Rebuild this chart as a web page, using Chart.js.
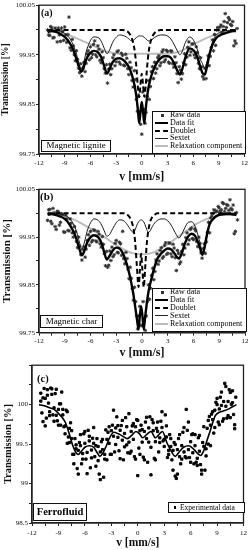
<!DOCTYPE html>
<html>
<head>
<meta charset="utf-8">
<script src="https://cdn.jsdelivr.net/npm/chart.js@4.4.1/dist/chart.umd.min.js"></script>
<style>
body { margin: 0; background: #fff; }
#page { position: relative; width: 250px; height: 550px; overflow: hidden; font-family: 'Liberation Serif', serif; color: #111; -webkit-font-smoothing: antialiased; }
canvas { position: absolute; left: 0; }
.box { position: absolute; box-sizing: border-box; border: 1px solid #111; background: #fff; color: #000; will-change: transform; transform: translateZ(0); }
.lbl { position: absolute; box-sizing: border-box; border: 1.3px solid #111; background: #fff; text-align: center; white-space: nowrap; color: #000; will-change: transform; transform: translateZ(0); }
.tag { position: absolute; font-weight: bold; will-change: transform; transform: translateZ(0); }
.row { position: absolute; left: 2px; height: 8px; line-height: 8px; font-size: 8px; white-space: nowrap; }
.sym { position: absolute; left: 0; width: 13px; }
.txt { position: absolute; left: 15px; top: 0; }
.dot { position: absolute; left: 5.5px; top: 2.5px; width: 3px; height: 3px; background: #333; }
</style>
</head>
<body>
<div id="page">
  <canvas id="chartA" width="250" height="184" style="top:0"></canvas>
  <canvas id="chartB" width="250" height="176" style="top:184px"></canvas>
  <canvas id="chartC" width="250" height="190" style="top:360px"></canvas>

  <div class="tag" style="left:41px;top:7px;font-size:10px">(a)</div>
  <div class="lbl" style="left:40.7px;top:140px;width:70.3px;height:11.7px;font-size:9px;line-height:9.5px">Magnetic lignite</div>
  <div class="box" style="left:152px;top:111px;width:93.5px;height:43px">
    <div class="row" style="top:-1px"><span class="dot"></span><span class="txt">Raw data</span></div>
    <div class="row" style="top:6.8px"><span class="sym" style="top:3px;border-top:2px solid #000"></span><span class="txt">Data fit</span></div>
    <div class="row" style="top:14.6px"><span class="sym" style="top:3px;border-top:2px dashed #000"></span><span class="txt">Doublet</span></div>
    <div class="row" style="top:22.4px"><span class="sym" style="top:3.5px;border-top:1px solid #222"></span><span class="txt">Sextet</span></div>
    <div class="row" style="top:30.2px"><span class="sym" style="top:3px;border-top:2px solid #bbb"></span><span class="txt">Relaxation component</span></div>
  </div>

  <div class="tag" style="left:39.5px;top:190px;font-size:11px">(b)</div>
  <div class="lbl" style="left:40px;top:315px;width:63px;height:13.3px;font-size:9px;line-height:10.5px">Magnetic char</div>
  <div class="box" style="left:152px;top:288.3px;width:94.5px;height:44.4px">
    <div class="row" style="top:-1px"><span class="dot"></span><span class="txt">Raw data</span></div>
    <div class="row" style="top:6.7px"><span class="sym" style="top:3px;border-top:2px solid #000"></span><span class="txt">Data fit</span></div>
    <div class="row" style="top:14.7px"><span class="sym" style="top:3px;border-top:2px dashed #000"></span><span class="txt">Doublet</span></div>
    <div class="row" style="top:22.7px"><span class="sym" style="top:3.5px;border-top:1px solid #222"></span><span class="txt">Sextet</span></div>
    <div class="row" style="top:30.7px"><span class="sym" style="top:3px;border-top:2px solid #bbb"></span><span class="txt">Relaxation component</span></div>
  </div>

  <div class="tag" style="left:37px;top:373px;font-size:10.5px">(c)</div>
  <div class="lbl" style="left:33.3px;top:502.5px;width:54px;height:18px;font-size:10.5px;line-height:15.5px;font-weight:bold">Ferrofluid</div>
  <div class="box" style="left:167.7px;top:501.7px;width:77.3px;height:11px">
    <div class="row" style="top:0.5px;left:2px;font-size:7.5px"><span class="dot" style="left:2.5px;top:2.5px;width:2.5px;height:2.5px;background:#000"></span><span class="txt" style="left:9px">Experimental data</span></div>
  </div>
</div>

<script>
// raw channels, two interleaved sets
var rawV = [
  -11, -10.75, -10.5, -10.25, -10, -9.75, -9.5, -9.25, -9, -8.75,
  -8.5, -8.25, -8, -7.75, -7.5, -7.25, -7, -6.75, -6.5, -6.25,
  -6, -5.75, -5.5, -5.25, -5, -4.75, -4.5, -4.25, -4, -3.75,
  -3.5, -3.25, -3, -2.75, -2.5, -2.25, -2, -1.75, -1.5, -1.25,
  -1, -0.75, -0.5, -0.25, 0, 0.25, 0.5, 0.75, 1, 1.25,
  1.5, 1.75, 2, 2.25, 2.5, 2.75, 3, 3.25, 3.5, 3.75,
  4, 4.25, 4.5, 4.75, 5, 5.25, 5.5, 5.75, 6, 6.25,
  6.5, 6.75, 7, 7.25, 7.5, 7.75, 8, 8.25, 8.5, 8.75,
  9, 9.25, 9.5, 9.75, 10, 10.25, 10.5, 10.75, 11
];
var rawV2 = [
  -10.875, -10.625, -10.375, -10.125, -9.875, -9.625, -9.375, -9.125, -8.875, -8.625,
  -8.375, -8.125, -7.875, -7.625, -7.375, -7.125, -6.875, -6.625, -6.375, -6.125,
  -5.875, -5.625, -5.375, -5.125, -4.875, -4.625, -4.375, -4.125, -3.875, -3.625,
  -3.375, -3.125, -2.875, -2.625, -2.375, -2.125, -1.875, -1.625, -1.375, -1.125,
  -0.875, -0.625, -0.375, -0.125, 0.125, 0.375, 0.625, 0.875, 1.125, 1.375,
  1.625, 1.875, 2.125, 2.375, 2.625, 2.875, 3.125, 3.375, 3.625, 3.875,
  4.125, 4.375, 4.625, 4.875, 5.125, 5.375, 5.625, 5.875, 6.125, 6.375,
  6.625, 6.875, 7.125, 7.375, 7.625, 7.875, 8.125, 8.375, 8.625, 8.875,
  9.125, 9.375, 9.625, 9.875, 10.125, 10.375, 10.625, 10.875, 11.125
];

// (a) magnetic lignite
var rawA1 = [
  100.000, 99.989, 100.004, 99.985, 99.999, 100.004, 99.977, 99.997, 100.006, 99.975,
  100.026, 99.959, 99.968, 99.938, 99.941, 99.914, 99.907, 99.935, 99.933, 99.958,
  99.966, 99.951, 99.978, 99.946, 99.961, 99.934, 99.944, 99.913, 99.893, 99.931,
  99.922, 99.950, 99.936, 99.958, 99.931, 99.949, 99.928, 99.943, 99.910, 99.924,
  99.885, 99.900, 99.836, 99.835, 99.790, 99.840, 99.834, 99.898, 99.886, 99.926,
  99.935, 99.922, 99.948, 99.934, 99.960, 99.940, 99.957, 99.933, 99.957, 99.925,
  99.934, 99.894, 99.919, 99.912, 99.952, 99.945, 99.976, 99.956, 99.972, 99.944,
  99.955, 99.922, 99.926, 99.901, 99.902, 99.948, 99.947, 99.980, 99.991, 100.000,
  100.000, 100.010, 100.007, 100.033, 100.015, 100.021, 100.009, 99.968, 99.973
];
var rawA2 = [
  99.990, 100.007, 99.984, 100.004, 99.976, 99.990, 100.004, 99.979, 99.990, 99.991,
  99.964, 99.981, 99.950, 99.958, 99.923, 99.932, 99.923, 99.916, 99.952, 99.940,
  99.944, 99.971, 99.950, 99.968, 99.939, 99.956, 99.922, 99.930, 99.921, 99.910,
  99.944, 99.928, 99.956, 99.935, 99.953, 99.929, 99.951, 99.922, 99.935, 99.898,
  99.918, 99.860, 99.866, 99.810, 99.875, 99.812, 99.866, 99.860, 99.916, 99.902,
  99.913, 99.944, 99.928, 99.956, 99.936, 99.959, 99.935, 99.958, 99.932, 99.946,
  99.912, 99.926, 99.901, 99.934, 99.930, 99.965, 99.949, 99.972, 99.950, 99.966,
  99.933, 99.944, 99.906, 99.923, 99.928, 99.928, 99.965, 99.958, 99.969, 100.005,
  100.006, 99.995, 100.017, 100.005, 100.025, 100.011, 100.017, 99.978, 100.003
];
var fitVa = [
  -11, -10.5, -10, -9.5, -9, -8.5, -8, -7.6, -7.3, -7.05, -6.8,
  -6.5, -6.1, -5.6, -5.1, -4.7, -4.35, -4.05, -3.75, -3.4, -3.0, -2.6,
  -2.2, -1.8, -1.5, -1.2, -1.0, -0.8, -0.6, -0.45, -0.3, -0.15, 0,
  0.15, 0.3, 0.45, 0.6, 0.8, 1.0, 1.2, 1.5, 1.8, 2.2, 2.6,
  3.0, 3.4, 3.8, 4.15, 4.45, 4.75, 5.1, 5.6, 6.1, 6.5, 6.85,
  7.1, 7.35, 7.6, 7.9, 8.3, 8.7, 9.2, 9.7, 10.2, 10.7, 11
];
var fitA = [
  99.996, 99.998, 99.996, 99.992, 99.986, 99.976, 99.960, 99.940, 99.924, 99.916, 99.924,
  99.940, 99.952, 99.958, 99.955, 99.944, 99.925, 99.912, 99.922, 99.935, 99.942, 99.943,
  99.940, 99.933, 99.925, 99.912, 99.900, 99.885, 99.862, 99.838, 99.812, 99.835, 99.855,
  99.835, 99.812, 99.838, 99.862, 99.885, 99.900, 99.912, 99.925, 99.935, 99.943, 99.947,
  99.947, 99.944, 99.932, 99.918, 99.910, 99.922, 99.945, 99.963, 99.958, 99.945, 99.925,
  99.913, 99.910, 99.925, 99.950, 99.972, 99.984, 99.990, 99.993, 99.996, 99.998, 99.998
];
var doubletA = [
  100, 100, 100, 100, 100, 100, 100, 100, 100, 100, 100,
  100, 100, 100, 100, 100, 100, 100, 100, 100, 100, 100,
  100, 99.998, 99.994, 99.985, 99.974, 99.955, 99.920, 99.885, 99.865, 99.890, 99.912,
  99.890, 99.865, 99.885, 99.920, 99.955, 99.974, 99.985, 99.994, 99.998, 100, 100,
  100, 100, 100, 100, 100, 100, 100, 100, 100, 100, 100,
  100, 100, 100, 100, 100, 100, 100, 100, 100, 100, 100
];
var sextetA = [
  100, 100, 99.999, 99.997, 99.993, 99.985, 99.970, 99.950, 99.930, 99.922, 99.932,
  99.955, 99.975, 99.986, 99.985, 99.976, 99.962, 99.952, 99.960, 99.975, 99.985, 99.990,
  99.989, 99.986, 99.982, 99.978, 99.979, 99.982, 99.985, 99.987, 99.988, 99.988, 99.988,
  99.987, 99.985, 99.983, 99.980, 99.978, 99.978, 99.981, 99.985, 99.988, 99.990, 99.990,
  99.988, 99.982, 99.970, 99.958, 99.950, 99.958, 99.975, 99.986, 99.978, 99.960, 99.940,
  99.932, 99.922, 99.935, 99.955, 99.978, 99.990, 99.996, 99.998, 99.999, 100, 100
];
var relaxA = [
  99.998, 99.997, 99.996, 99.994, 99.992, 99.989, 99.986, 99.983, 99.981, 99.979, 99.977,
  99.975, 99.972, 99.968, 99.964, 99.961, 99.958, 99.956, 99.955, 99.954, 99.953, 99.952,
  99.952, 99.952, 99.952, 99.952, 99.952, 99.952, 99.952, 99.952, 99.952, 99.952, 99.952,
  99.952, 99.952, 99.952, 99.952, 99.952, 99.952, 99.952, 99.952, 99.952, 99.952, 99.952,
  99.952, 99.953, 99.954, 99.955, 99.957, 99.959, 99.962, 99.967, 99.972, 99.975, 99.978,
  99.980, 99.982, 99.984, 99.986, 99.989, 99.991, 99.993, 99.995, 99.997, 99.998, 99.999
];

// (b) magnetic char
var rawB1 = [
  99.985, 100.008, 99.978, 100.001, 99.966, 100.003, 99.981, 99.997, 99.960, 99.988,
  99.963, 99.979, 99.950, 99.961, 99.928, 99.931, 99.902, 99.930, 99.925, 99.955,
  99.962, 99.943, 99.964, 99.940, 99.956, 99.929, 99.935, 99.890, 99.887, 99.921,
  99.929, 99.913, 99.943, 99.917, 99.936, 99.962, 99.894, 99.905, 99.863, 99.864,
  99.818, 99.815, 99.758, 99.805, 99.765, 99.777, 99.785, 99.850, 99.843, 99.885,
  99.878, 99.915, 99.900, 99.928, 99.909, 99.938, 99.916, 99.937, 99.909, 99.927,
  99.880, 99.916, 99.898, 99.935, 99.927, 99.959, 99.944, 99.969, 99.945, 99.963,
  99.930, 99.937, 99.906, 99.936, 99.940, 99.981, 99.990, 99.999, 100.006, 100.004,
  100.011, 100.007, 100.020, 100.010, 100.016, 100.028, 100.007, 99.957, 100.001
];
var rawB2 = [
  100.007, 99.983, 100.010, 99.972, 100.004, 99.975, 99.999, 99.961, 99.996, 99.964,
  99.988, 99.959, 99.972, 99.941, 99.950, 99.913, 99.924, 99.908, 99.943, 99.933,
  99.940, 99.965, 99.942, 99.962, 99.936, 99.951, 99.915, 99.920, 99.891, 99.901,
  99.909, 99.937, 99.918, 99.939, 99.912, 99.905, 99.918, 99.883, 99.887, 99.842,
  99.845, 99.785, 99.785, 99.765, 99.815, 99.755, 99.815, 99.820, 99.870, 99.861,
  99.902, 99.893, 99.922, 99.906, 99.933, 99.914, 99.938, 99.915, 99.935, 99.907,
  99.922, 99.894, 99.920, 99.913, 99.949, 99.935, 99.966, 99.947, 99.967, 99.941,
  99.950, 99.917, 99.926, 99.916, 99.960, 99.959, 99.994, 100.007, 100.003, 100.014,
  100.004, 100.022, 100.003, 100.018, 100.006, 100.010, 100.017, 99.962, 99.986
];
var fitVb = [
  -11, -10.5, -10, -9.5, -9, -8.5, -8, -7.6, -7.3, -7.0, -6.7,
  -6.4, -6.0, -5.6, -5.1, -4.7, -4.4, -4.1, -3.8, -3.4, -3.0, -2.6,
  -2.2, -1.8, -1.5, -1.2, -1.0, -0.8, -0.6, -0.4, -0.25, -0.1, 0.05,
  0.2, 0.35, 0.55, 0.75, 0.95, 1.2, 1.5, 1.8, 2.2, 2.6, 3.0,
  3.4, 3.7, 4.0, 4.3, 4.6, 5.0, 5.4, 5.8, 6.2, 6.5, 6.8,
  7.05, 7.3, 7.6, 7.9, 8.3, 8.7, 9.2, 9.7, 10.2, 10.7, 11
];
var fitB = [
  99.997, 99.998, 99.996, 99.993, 99.988, 99.978, 99.962, 99.944, 99.926, 99.912, 99.922,
  99.938, 99.950, 99.954, 99.950, 99.937, 99.918, 99.903, 99.910, 99.922, 99.928, 99.926,
  99.915, 99.895, 99.875, 99.850, 99.830, 99.805, 99.780, 99.757, 99.785, 99.805, 99.785,
  99.757, 99.780, 99.810, 99.835, 99.852, 99.870, 99.890, 99.905, 99.915, 99.922, 99.926,
  99.924, 99.918, 99.910, 99.905, 99.915, 99.937, 99.952, 99.957, 99.952, 99.940, 99.925,
  99.913, 99.930, 99.958, 99.978, 99.988, 99.994, 99.997, 99.998, 99.998, 99.997, 99.996
];
var doubletB = [
  100, 100, 100, 100, 100, 100, 100, 100, 100, 100, 100,
  100, 100, 100, 100, 100, 100, 100, 100, 100, 100, 100,
  100, 99.998, 99.993, 99.982, 99.968, 99.940, 99.890, 99.845, 99.880, 99.915, 99.880,
  99.845, 99.880, 99.935, 99.965, 99.982, 99.992, 99.997, 100, 100, 100, 100,
  100, 100, 100, 100, 100, 100, 100, 100, 100, 100, 100,
  100, 100, 100, 100, 100, 100, 100, 100, 100, 100, 100
];
var sextetB = [
  100, 100, 99.999, 99.998, 99.996, 99.990, 99.978, 99.960, 99.940, 99.925, 99.940,
  99.962, 99.980, 99.988, 99.985, 99.975, 99.963, 99.952, 99.955, 99.968, 99.980, 99.986,
  99.985, 99.978, 99.970, 99.962, 99.960, 99.965, 99.975, 99.982, 99.985, 99.986, 99.985,
  99.982, 99.976, 99.966, 99.960, 99.963, 99.972, 99.980, 99.985, 99.988, 99.988, 99.984,
  99.975, 99.965, 99.955, 99.948, 99.955, 99.970, 99.981, 99.982, 99.972, 99.955, 99.935,
  99.915, 99.925, 99.955, 99.978, 99.990, 99.996, 99.998, 99.999, 100, 100, 100
];
var relaxB = [
  99.999, 99.998, 99.997, 99.995, 99.993, 99.990, 99.987, 99.984, 99.981, 99.978, 99.975,
  99.972, 99.968, 99.964, 99.958, 99.954, 99.950, 99.947, 99.943, 99.938, 99.933, 99.929,
  99.925, 99.921, 99.919, 99.917, 99.916, 99.915, 99.915, 99.914, 99.914, 99.914, 99.914,
  99.914, 99.914, 99.915, 99.915, 99.916, 99.917, 99.919, 99.922, 99.926, 99.930, 99.935,
  99.940, 99.944, 99.948, 99.952, 99.956, 99.961, 99.966, 99.971, 99.976, 99.979, 99.982,
  99.984, 99.986, 99.988, 99.990, 99.992, 99.994, 99.996, 99.997, 99.998, 99.999, 99.999
];

// (c) ferrofluid
var rawC1 = [
  100.145, 99.785, 100.08, 100.19, 99.86, 100.13, 99.79, 100.195, 99.94, 99.74,
  99.94, 99.63, 99.91, 99.52, 99.67, 99.25, 99.49, 99.12, 99.62, 99.31,
  99.66, 99.125, 99.6, 99.325, 99.71, 99.22, 99.47, 99.05, 99.56, 99.31,
  99.3, 99.72, 99.37, 99.93, 99.495, 99.735, 99.315, 99.8, 99.465, 99.72,
  99.885, 99.41, 99.76, 99.31, 99.8, 99.37, 99.685, 99.3, 99.84, 99.525,
  99.46, 99.77, 99.3, 99.78, 99.52, 99.91, 99.47, 99.73, 99.37, 99.57,
  99.17, 99.495, 99.12, 99.62, 99.31, 99.71, 99.325, 99.78, 99.27, 99.63,
  99.62, 99.23, 99.61, 99.17, 99.72, 99.35, 99.8, 99.48, 99.91, 99.71,
  100.0, 99.745, 100.16, 99.82, 100.23, 100.04, 99.835, 100.175, 99.745
];
var rawC2 = [
  99.895, 100.205, 99.83, 100.02, 100.21, 99.87, 100.14, 99.795, 100.01, 100.16,
  99.72, 99.93, 99.59, 99.77, 99.37, 99.57, 99.19, 99.52, 99.25, 99.63,
  99.31, 99.675, 99.2, 99.575, 99.34, 99.57, 99.12, 99.53, 99.08, 99.68,
  99.65, 99.37, 99.74, 99.4, 99.845, 99.415, 99.735, 99.3, 99.835, 99.39,
  99.385, 99.73, 99.34, 99.81, 99.45, 99.74, 99.335, 99.78, 99.27, 99.845,
  99.81, 99.32, 99.7, 99.4, 99.79, 99.54, 99.87, 99.33, 99.62, 99.3,
  99.52, 99.065, 99.57, 99.25, 99.65, 99.34, 99.675, 99.33, 99.62, 99.25,
  99.27, 99.58, 99.24, 99.52, 99.17, 99.7, 99.85, 99.88, 99.64, 100.03,
  99.78, 100.095, 99.79, 100.27, 99.83, 100.19, 100.005, 99.875, 100.095
];
var rawC3 = [
  100.045, 100.085, 99.73, 100.12, 99.91, 100.2, 99.96, 99.865, 99.74, 100.01,
  99.87, 99.73, 99.51, 99.7, 99.57, 99.37, 99.44, 99.42, 99.48, 99.38,
  99.51, 99.395, 99.54, 99.425, 99.51, 99.48, 99.29, 99.4, 99.43, 99.37,
  99.56, 99.51, 99.67, 99.6, 99.705, 99.585, 99.675, 99.55, 99.635, 99.49,
  99.525, 99.66, 99.56, 99.72, 99.1, 99.67, 99.525, 99.66, 99.57, 99.705,
  99.11, 99.67, 99.53, 99.66, 99.58, 99.71, 99.56, 99.59, 99.42, 99.47,
  99.42, 99.095, 99.43, 99.34, 99.48, 99.4, 99.94, 99.43, 99.53, 99.39,
  99.48, 99.32, 99.41, 99.12, 99.47, 99.44, 99.5, 99.74, 99.81, 99.93,
  100.08, 99.945, 99.99, 100.04, 99.98, 99.86, 100.155, 100.025, 99.695
];
var fitVc = [
  -11.2, -10.6, -10, -9.5, -9, -8.6, -8.2, -7.8, -7.4, -7.0, -6.75,
  -6.4, -6.0, -5.5, -5.0, -4.6, -4.3, -4.0, -3.6, -3.2, -2.7, -2.2,
  -1.7, -1.2, -0.7, -0.2, 0.2, 0.55, 1.0, 1.5, 2.0, 2.4, 2.8,
  3.3, 3.8, 4.25, 4.7, 5.2, 5.8, 6.4, 6.8, 7.15, 7.5, 7.9,
  8.2, 8.5, 8.8, 9.2, 9.7, 10.2, 10.7, 11.2
];
var fitC = [
  100.0, 99.985, 99.96, 99.94, 99.89, 99.84, 99.77, 99.64, 99.49, 99.39, 99.37,
  99.41, 99.46, 99.48, 99.46, 99.39, 99.345, 99.38, 99.47, 99.58, 99.65, 99.63,
  99.6, 99.57, 99.61, 99.66, 99.63, 99.58, 99.62, 99.66, 99.58, 99.62, 99.66,
  99.52, 99.41, 99.345, 99.4, 99.46, 99.48, 99.43, 99.38, 99.355, 99.42, 99.56,
  99.66, 99.77, 99.86, 99.9, 99.92, 99.94, 99.97, 100.0
];

var FONT = 'Liberation Serif';

function pts(xs, ys) {
  return xs.map(function (x, i) { return { x: x, y: ys[i] }; });
}

// box round the plot area
var framePlugin = {
  id: 'frame',
  afterDraw: function (chart) {
    var a = chart.chartArea, ctx = chart.ctx;
    ctx.save();
    ctx.strokeStyle = '#222';
    ctx.lineWidth = 1.3;
    ctx.strokeRect(a.left, a.top, a.right - a.left, a.bottom - a.top);
    ctx.restore();
  }
};

function curve(data, color, width, dash, order) {
  return {
    data: data, borderColor: color, borderWidth: width, borderDash: dash,
    pointRadius: 0, fill: false, cubicInterpolationMode: 'monotone', order: order
  };
}

function scatter(data, style, radius, color) {
  return {
    data: data, showLine: false, pointStyle: style, pointRadius: radius,
    pointBorderWidth: 1, pointBorderColor: color, pointBackgroundColor: color, order: 4
  };
}

function makeChart(id, datasets, o) {
  return new Chart(document.getElementById(id), {
    type: 'line',
    data: { datasets: datasets },
    plugins: [framePlugin],
    options: {
      responsive: false,
      animation: false,
      events: [],
      layout: { padding: { top: o.top, right: o.right, left: 0, bottom: 0 } },
      plugins: { legend: { display: false }, tooltip: { enabled: false } },
      scales: {
        x: {
          type: 'linear', min: -12, max: 12,
          ticks: {
            stepSize: 1.5, autoSkip: false, maxRotation: 0, padding: o.xPad, color: '#111',
            font: { family: FONT, size: 7 },
            callback: function (v) { return Math.abs(v % 3) < 1e-6 ? String(v) : ''; }
          },
          grid: { drawOnChartArea: false, tickLength: 3, color: '#222' },
          border: { color: '#222', width: 1.3 },
          title: { display: true, text: 'v [mm/s]', color: '#111', padding: 0,
                   font: { family: FONT, size: o.xTitle, weight: 'bold' } },
          afterFit: function (s) { s.height = o.xHeight; }
        },
        y: {
          type: 'linear', min: o.yMin, max: o.yMax,
          ticks: {
            stepSize: o.yStep, padding: 1, color: '#111',
            font: { family: FONT, size: 7 },
            callback: o.yLabel
          },
          grid: { drawOnChartArea: false, tickLength: 3, color: '#222' },
          border: { color: '#222', width: 1.3 },
          title: { display: true, text: 'Transmission [%]', color: '#111', padding: { top: o.yTitlePad, bottom: 0 },
                   font: { family: FONT, size: o.yTitle, weight: 'bold' } },
          afterFit: function (s) { s.width = o.yWidth; }
        }
      }
    }
  });
}

function mossLabel(v) {
  var k = Math.round((v - 99.75) / 0.05);
  return k % 2 === 0 ? v.toFixed(2) : '';
}

makeChart('chartA', [
  curve(pts(fitVa, fitA), '#000', 2.4, [], 1),
  curve(pts(fitVa, doubletA), '#000', 2, [5, 3], 2),
  curve(pts(fitVa, sextetA), '#1a1a1a', 1, [], 3),
  scatter(pts(rawV, rawA1), 'star', 1.8, '#333'),
  scatter(pts(rawV2, rawA2), 'star', 1.8, '#333'),
  curve(pts(fitVa, relaxA), '#bdbdbd', 2, [], 5)
], { top: 5, right: 5, xPad: 2, xTitle: 12, xHeight: 30, yMin: 99.75, yMax: 100.05, yStep: 0.05,
     yLabel: mossLabel, yWidth: 39, yTitle: 9.5, yTitlePad: 0 });

makeChart('chartB', [
  curve(pts(fitVb, fitB), '#000', 2.4, [], 1),
  curve(pts(fitVb, doubletB), '#000', 2, [5, 3], 2),
  curve(pts(fitVb, sextetB), '#1a1a1a', 1, [], 3),
  scatter(pts(rawV, rawB1), 'star', 1.8, '#333'),
  scatter(pts(rawV2, rawB2), 'star', 1.8, '#333'),
  curve(pts(fitVb, relaxB), '#bdbdbd', 2, [], 5)
], { top: 5.3, right: 3.5, xPad: 1, xTitle: 12, xHeight: 27.3, yMin: 99.75, yMax: 100.05, yStep: 0.05,
     yLabel: mossLabel, yWidth: 39, yTitle: 11, yTitlePad: 1 });

makeChart('chartC', [
  curve(pts(fitVc, fitC), '#000', 1.6, [], 1),
  scatter(pts(rawV, rawC1), 'rect', 1.6, '#000'),
  scatter(pts(rawV2, rawC2), 'rect', 1.6, '#000'),
  scatter(pts(rawV, rawC3), 'rect', 1.6, '#000')
], { top: 5, right: 4, xPad: 3, xTitle: 11.5, xHeight: 27, yMin: 98.5, yMax: 100.5, yStep: 0.25,
     yLabel: function (v) {
       var k = Math.round((v - 98.5) / 0.25);
       return (k % 2 === 0 && v < 100.4) ? String(v) : '';
     },
     yWidth: 32, yTitle: 10.5, yTitlePad: 2 });
</script>
</body>
</html>
